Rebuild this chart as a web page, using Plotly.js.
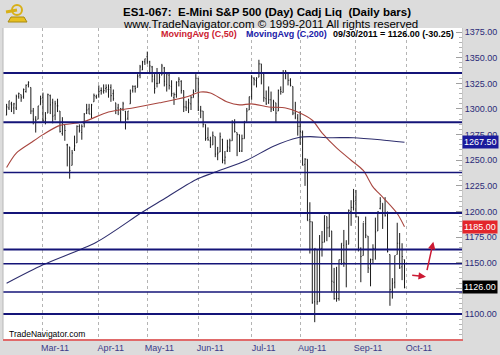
<!DOCTYPE html>
<html><head><meta charset="utf-8">
<script src="https://cdn.plot.ly/plotly-3.0.1.min.js"></script>
<style>html,body{margin:0;padding:0;background:#dcdcdc;}#chart{width:500px;height:355px;}</style>
</head><body><div id="chart"></div>
<script>
// ---- data ----
const monthIdx = [15, 38, 58, 79, 101, 121, 144, 165];
const monthLabels = ['Mar-11','Apr-11','May-11','Jun-11','Jul-11','Aug-11','Sep-11','Oct-11'];

const opens = [1294,1301,1305,1301,1301,1312,1314,1312,1317,1324,1321,1298,1290,1290,1304,
1311,1288,1296,1313,1306,1294,1303,1298,1276,1284,1265,1263,1245,1261,1267,
1283,1277,1286,1296,1300,1295,1307,1312,1314,1318,1317,1320,1319,1321,1315,
1306,1301,1296,1300,1298,1291,1305,1318,1322,1321,1333,1338,1346,1351,1346,
1341,1329,1325,1325,1333,1340,1324,1333,1322,1311,1314,1327,1327,1318,1302,
1301,1305,1311,1317,1330,1299,1298,1285,1272,1269,1265,1273,1256,1258,1270,
1250,1259,1262,1269,1286,1277,1275,1259,1271,1288,1299,1312,1330,1328,1331,
1344,1334,1310,1306,1309,1300,1306,1298,1319,1316,1335,1335,1328,1322,1296,
1291,1283,1277,1246,1251,1192,1190,1112,1163,1112,1164,1170,1195,1184,1181,
1131,1115,1115,1153,1167,1149,1168,1200,1204,1211,1195,1164,1157,1188,1176,
1144,1153,1164,1181,1203,1208,1198,1198,1158,1122,1131,1158,1169,1146,1153];
const highs = [1305,1308,1307,1306,1314,1316,1314,1320,1324,1327,1321,1301,1293,1303,1313,
1316,1297,1315,1314,1310,1308,1310,1298,1292,1284,1266,1263,1260,1274,1284,
1285,1285,1296,1305,1305,1305,1315,1314,1323,1321,1324,1324,1324,1324,1319,
1306,1305,1301,1307,1298,1298,1319,1323,1323,1334,1343,1347,1349,1356,1347,
1342,1334,1340,1335,1344,1341,1334,1335,1328,1316,1327,1331,1328,1318,1308,
1310,1313,1319,1334,1330,1303,1298,1285,1282,1273,1278,1273,1263,1277,1271,
1259,1270,1271,1289,1290,1277,1275,1275,1288,1301,1312,1333,1331,1331,1348,
1344,1334,1318,1322,1317,1309,1306,1319,1322,1338,1338,1335,1330,1322,1307,
1295,1298,1279,1252,1251,1209,1190,1164,1163,1177,1181,1196,1195,1199,1181,
1145,1146,1153,1169,1182,1172,1202,1211,1222,1221,1195,1165,1189,1195,1176,
1154,1168,1194,1200,1214,1208,1214,1200,1158,1135,1157,1189,1179,1169,1153];
const lows = [1294,1299,1297,1295,1299,1310,1307,1310,1316,1321,1295,1285,1277,1290,1304,
1287,1285,1296,1295,1286,1289,1297,1277,1274,1269,1244,1232,1245,1259,1267,
1277,1270,1282,1295,1295,1291,1307,1310,1311,1314,1315,1316,1311,1307,1308,
1295,1294,1287,1298,1280,1289,1305,1316,1316,1321,1330,1338,1343,1344,1334,
1326,1315,1321,1325,1333,1322,1317,1319,1312,1304,1311,1322,1315,1297,1298,
1296,1299,1311,1317,1298,1291,1282,1269,1269,1262,1265,1253,1250,1258,1247,
1246,1258,1258,1269,1277,1254,1258,1258,1271,1288,1299,1309,1323,1321,1331,
1324,1307,1304,1305,1297,1298,1287,1298,1314,1316,1329,1323,1322,1294,1290,
1274,1265,1245,1225,1191,1159,1110,1092,1109,1112,1156,1170,1171,1175,1122,
1114,1112,1113,1148,1146,1126,1168,1186,1201,1194,1161,1131,1157,1174,1140,
1127,1149,1153,1181,1202,1183,1195,1160,1108,1115,1125,1158,1144,1133,1125];
const closes = [1302,1308,1304,1305,1312,1315,1311,1319,1323,1326,1298,1290,1289,1303,1310,
1289,1291,1314,1304,1293,1305,1303,1278,1287,1279,1265,1240,1257,1264,1283,
1279,1283,1295,1299,1295,1304,1313,1311,1317,1318,1318,1321,1319,1313,1310,
1299,1299,1300,1305,1290,1298,1315,1322,1320,1332,1341,1346,1349,1346,1342,
1332,1320,1325,1331,1342,1327,1334,1323,1315,1314,1326,1329,1318,1302,1301,
1306,1311,1316,1330,1299,1298,1285,1271,1270,1265,1274,1256,1257,1273,1250,
1253,1263,1269,1287,1278,1275,1259,1271,1288,1298,1312,1331,1329,1330,1344,
1335,1311,1305,1309,1300,1307,1296,1318,1317,1335,1336,1328,1323,1296,1292,
1283,1278,1245,1251,1191,1190,1111,1164,1112,1164,1170,1196,1184,1185,1132,
1115,1115,1153,1169,1150,1168,1201,1204,1210,1195,1165,1156,1190,1177,1145,
1153,1164,1180,1200,1210,1198,1196,1161,1124,1130,1157,1169,1145,1156,1126];

const ma50Idx = [0, 4, 10, 15, 22, 31, 42, 52, 63, 74, 80, 84, 91, 96, 101, 108, 115, 120, 126, 130, 136, 142, 147, 151, 155, 161, 164];
const ma50Val = [1243, 1257, 1267, 1275, 1284, 1287, 1297, 1301, 1306, 1311.7, 1316.6, 1315.6, 1306.8, 1304, 1305, 1302, 1301, 1297, 1289, 1276.6, 1262, 1250, 1240, 1224, 1214, 1198, 1185];
const ma200Idx = [0, 15, 37, 56, 64, 78, 85, 99, 110, 120, 125, 133, 143, 154, 164];
const ma200Val = [1130, 1148, 1170, 1199.5, 1211, 1231, 1237.6, 1250, 1263.7, 1272, 1273, 1272, 1272, 1270, 1267.5];

const levelLines = [1335, 1287, 1238, 1198.5, 1163, 1149, 1121.5, 1100];
const lastClose = 1126.00, lastChange = -30.25, lastMa50 = 1185.00, lastMa200 = 1267.50;
const lastDate = '09/30/2011';

// ---- layout helpers (pixel -> paper) ----
const PL = 3, PR = 462, PT = 28, PB = 339;
const px = X => (X - PL) / (PR - PL);
const py = Y => (PB - Y) / (PB - PT);
const F = 'Liberation Sans, Arial, sans-serif';
const FN = 'Liberation Sans Narrow, Arial Narrow, Liberation Sans, Arial, sans-serif';

const traces = [
  {type: 'ohlc', open: opens, high: highs, low: lows, close: closes,
   increasing: {line: {color: '#1c1c1c', width: 1}},
   decreasing: {line: {color: '#1c1c1c', width: 1}},
   tickwidth: 0.3, hoverinfo: 'skip'},
  {type: 'scatter', mode: 'lines', x: ma50Idx, y: ma50Val,
   line: {color: '#a8463f', width: 1.1, shape: 'spline', smoothing: 0.8}, hoverinfo: 'skip'},
  {type: 'scatter', mode: 'lines', x: ma200Idx, y: ma200Val,
   line: {color: '#2e2e6e', width: 1.1, shape: 'spline', smoothing: 0.8}, hoverinfo: 'skip'}
];

const shapes = levelLines.map((v, k) => ({
  type: 'line', xref: 'paper', yref: 'y', x0: 0, x1: 1, y0: v, y1: v,
  line: {color: '#141478', width: (k === 2 || k === 5 || k === 6) ? 1.6 : 2}
}));
shapes.push({type: 'line', xref: 'paper', yref: 'paper', x0: 0, x1: 0, y0: 0, y1: 1, line: {color: '#b8b8b8', width: 1}});
// small golden logo
shapes.push({type: 'path', xref: 'paper', yref: 'paper',
  path: `M ${px(8)} ${py(22)} L ${px(27)} ${py(22)} L ${px(24)} ${py(17)} L ${px(11)} ${py(17)} Z`,
  fillcolor: '#e8c020', line: {color: '#a88a10', width: 1}});
shapes.push({type: 'circle', xref: 'paper', yref: 'paper', x0: px(12), x1: px(22), y0: py(15), y1: py(5),
  fillcolor: 'rgba(0,0,0,0)', line: {color: '#d8b018', width: 2}});
shapes.push({type: 'line', xref: 'paper', yref: 'paper', x0: px(6), x1: px(17), y0: py(12), y1: py(10), line: {color: '#d8b018', width: 3}});

const ann = [
  {text: '<b>ES1-067:  E-Mini S&P 500 (Day) Cadj Liq  (Daily bars)</b>', x: px(121), y: py(12),
   font: {family: FN, size: 11.5, color: '#000'}},
  {text: 'www.TradeNavigator.com © 1999-2011 All rights reserved', x: px(121), y: py(23.5),
   font: {family: FN, size: 11.5, color: '#000'}},
  {text: '<b>MovingAvg (C,50)</b>', x: px(159), y: py(34), font: {family: F, size: 9, color: '#cc2030'}},
  {text: '<b>MovingAvg (C,200)</b>', x: px(244), y: py(34), font: {family: F, size: 9, color: '#2020a8'}},
  {text: '<b>' + lastDate + ' = ' + lastClose.toFixed(2) + ' (' + lastChange.toFixed(2) + ')</b>', x: px(331), y: py(34),
   font: {family: F, size: 9, color: '#000'}},
  {text: 'TradeNavigator.com', x: px(7), y: py(334), font: {family: F, size: 8.5, color: '#000'}}
].map(a => Object.assign({xref: 'paper', yref: 'paper', xanchor: 'left', yanchor: 'middle', showarrow: false}, a));

[[lastMa200, '#1a1a9c'], [lastMa50, '#e3262b'], [lastClose, '#000000']].forEach(([v, c]) => {
  ann.push({text: v.toFixed(2), xref: 'paper', yref: 'y', x: 1, y: v, xanchor: 'left', yanchor: 'middle',
    showarrow: false, bgcolor: c, borderpad: 1, font: {family: F, size: 9, color: '#fff'}});
});

// red arrows
ann.push({text: '', xref: 'paper', yref: 'paper', x: px(426), y: py(276.7), ax: -15.3, ay: -1.7,
  showarrow: true, arrowhead: 2, arrowsize: 1, arrowwidth: 1.5, arrowcolor: '#cc1a33', standoff: 0, startstandoff: 0});
ann.push({text: '', xref: 'paper', yref: 'paper', x: px(433.3), y: py(241.7), ax: -6.6, ay: 30,
  showarrow: true, arrowhead: 2, arrowsize: 1, arrowwidth: 1.5, arrowcolor: '#cc1a33', standoff: 0, startstandoff: 0});

const layout = {
  width: 500, height: 355,
  margin: {l: PL, r: 500 - PR, t: PT, b: 355 - PB, pad: 0},
  paper_bgcolor: '#dcdcdc', plot_bgcolor: '#ffffff',
  showlegend: false, hovermode: false,
  xaxis: {
    range: [-1.48, 187.7], tickmode: 'array', tickvals: monthIdx, ticktext: monthLabels,
    showgrid: true, gridcolor: '#b4b4b4', griddash: '3px,3px', gridwidth: 1,
    ticks: '', ticklabelshift: 12, zeroline: false,
    showline: true, linecolor: '#e06a6a', linewidth: 1.5,
    tickfont: {family: F, size: 9, color: '#3b3b8a'},
    rangeslider: {visible: false}, fixedrange: true
  },
  yaxis: {
    side: 'right', range: [1075.6, 1379], tickmode: 'linear', tick0: 1100, dtick: 25, tickformat: '.2f',
    ticks: 'inside', ticklen: 6, tickcolor: '#a0a0a0',
    minor: {dtick: 5, ticks: 'inside', ticklen: 3, tickcolor: '#b4b4b4', showgrid: false},
    showgrid: false, zeroline: false, showline: true, linecolor: '#c8c8c8',
    tickfont: {family: F, size: 9, color: '#2b2b78'}, fixedrange: true
  },
  shapes: shapes,
  annotations: ann
};

Plotly.newPlot('chart', traces, layout, {displayModeBar: false, staticPlot: true});
</script></body></html>
